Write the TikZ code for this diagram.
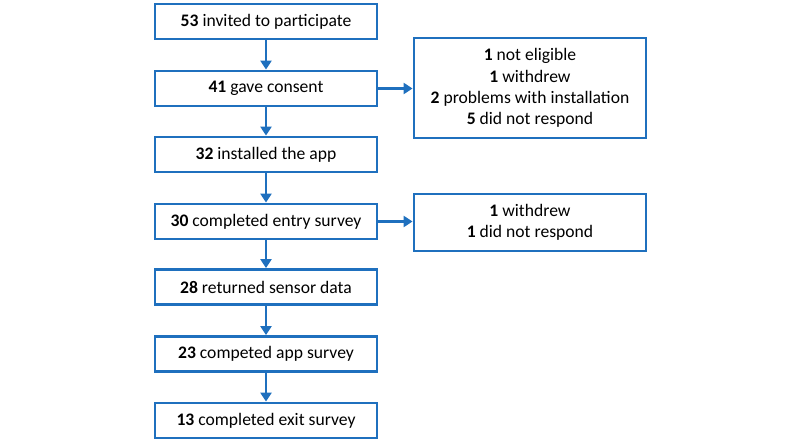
\documentclass[tikz,border=0pt]{standalone}
\usepackage{fontspec}
\setmainfont{Carlito}
\usetikzlibrary{arrows.meta}
\definecolor{fblue}{RGB}{31,112,190}
\begin{document}
\begin{tikzpicture}[x=1pt,y=-1pt,
  box/.style={draw=fblue,line width=2.8pt,fill=white,inner sep=0pt,font=\fontsize{17.6}{21.3}\selectfont,align=center},
  leftbox/.style={box,minimum width=222pt,minimum height=35pt},
  conn/.style={draw=fblue,line width=2.8pt,-{Triangle[width=11pt,length=9pt]}}]
\useasboundingbox (0,0) rectangle (800,444);
\node[leftbox] (b1) at (266,21.5) {\textbf{53} invited to participate};
\node[leftbox] (b2) at (266,88.5) {\textbf{41} gave consent};
\node[leftbox] (b3) at (266,154.5) {\textbf{32} installed the app};
\node[leftbox] (b4) at (266,221.5) {\textbf{30} completed entry survey};
\node[leftbox] (b5) at (266,287) {\textbf{28} returned sensor data};
\node[leftbox] (b6) at (266,354) {\textbf{23} competed app survey};
\node[leftbox] (b7) at (266,420.5) {\textbf{13} completed exit survey};
\node[box,minimum width=232pt,minimum height=100pt] (r1) at (530,88) {\textbf{1} not eligible\\\textbf{1} withdrew\\\textbf{2} problems with installation\\\textbf{5} did not respond};
\node[box,minimum width=232pt,minimum height=57pt] (r2) at (530,222.5) {\textbf{1} withdrew\\\textbf{1} did not respond};
\draw[conn] (b1) -- (b2);
\draw[conn] (b2) -- (b3);
\draw[conn] (b3) -- (b4);
\draw[conn] (b4) -- (b5);
\draw[conn] (b5) -- (b6);
\draw[conn] (b6) -- (b7);
\draw[conn] (b2.east) -- (b2.east -| r1.west);
\draw[conn] (b4.east) -- (b4.east -| r2.west);
\end{tikzpicture}
\end{document}
